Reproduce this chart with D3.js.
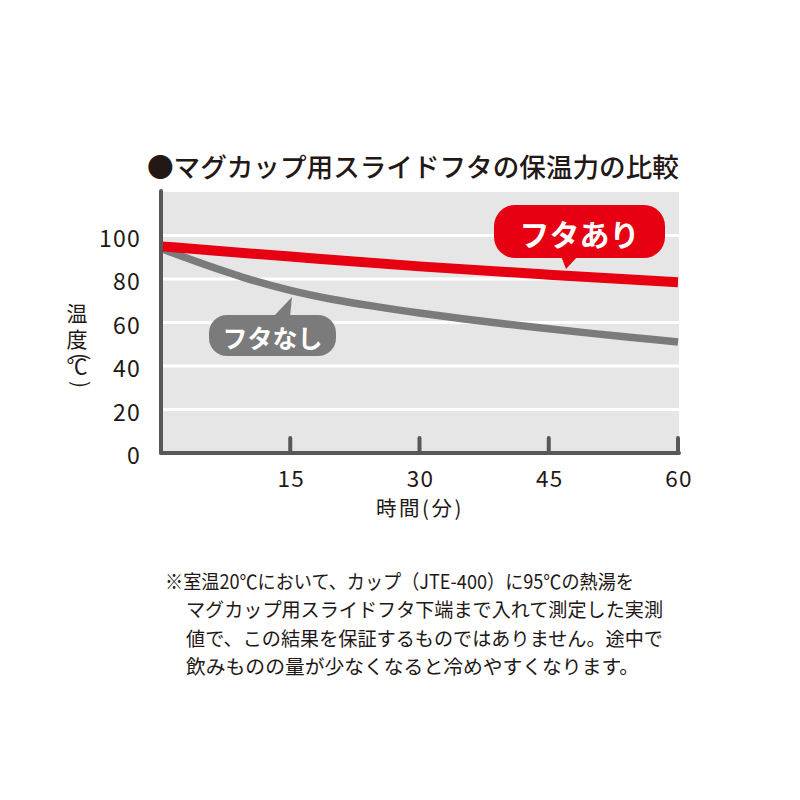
<!DOCTYPE html>
<html><head><meta charset="utf-8">
<script src="https://cdn.jsdelivr.net/npm/d3@7/dist/d3.min.js"></script>
<style>html,body{margin:0;padding:0;background:#fff;}svg{display:block;}</style>
</head><body>
<svg id="chart" width="800" height="800"></svg>
<script>
const title = "●マグカップ用スライドフタの保温力の比較";
const yTicks = [0, 20, 40, 60, 80, 100];
const xTicks = [15, 30, 45, 60];
const withLidTime = [0, 15, 30, 45, 60];
const withLidTemp = [95, 90.3, 85.8, 82, 78.5];
const noLidTime = [0, 5, 10, 15, 20, 25, 30, 35, 40, 45, 50, 55, 60];
const noLidTemp = [94, 86.8, 80.2, 74.8, 70.6, 67.3, 64.4, 61.7, 59.3, 57.1, 55.0, 53.0, 51.0];
const seriesNames = ["フタあり", "フタなし"];
const yLabel = "温度(℃)";
const xLabel = "時間(分)";
const notes = [
  "※室温20℃において、カップ（JTE-400）に95℃の熱湯を",
  "マグカップ用スライドフタ下端まで入れて測定した実測",
  "値で、この結果を保証するものではありません。途中で",
  "飲みものの量が少なくなると冷めやすくなります。"
];

const FONT = "'Noto Sans CJK JP','Noto Sans',sans-serif";
const INK = "#231815";
const RED = "#e60012";
const GREY = "#7b7b7b";
const svg = d3.select("#chart");

const x = d3.scaleLinear().domain([0, 60]).range([161, 678]);
const y = d3.scaleLinear().domain([0, 120]).range([453, 192]);

// title
svg.append("text").attr("x", 147).attr("y", 165)
  .attr("dominant-baseline", "central")
  .attr("font-family", FONT).attr("font-size", 26.6).attr("font-weight", 500)
  .attr("fill", INK).text(title);

// plot background
svg.append("rect").attr("x", x(0)).attr("y", y(120))
  .attr("width", x(60) - x(0) + 1).attr("height", y(0) - y(120))
  .attr("fill", "#e6e6e6");

// gridlines
svg.append("g").selectAll("line").data(yTicks.filter(d => d > 0)).join("line")
  .attr("x1", x(0)).attr("x2", x(60) + 1)
  .attr("y1", d => y(d)).attr("y2", d => y(d))
  .attr("stroke", "#fff").attr("stroke-width", 3);

// lines
const lineGen = d3.line().x(d => x(d[0])).y(d => y(d[1])).curve(d3.curveMonotoneX);
svg.append("path").datum(noLidTime.map((t, i) => [t, noLidTemp[i]]))
  .attr("d", lineGen).attr("fill", "none").attr("stroke", GREY).attr("stroke-width", 7.5);
svg.append("path").datum(withLidTime.map((t, i) => [t, withLidTemp[i]]))
  .attr("d", lineGen).attr("fill", "none").attr("stroke", RED).attr("stroke-width", 10);

// callouts
function callout(cx, cy, w, h, r, tri, fill, label, fs) {
  const g = svg.append("g");
  g.append("rect").attr("x", cx - w / 2).attr("y", cy - h / 2).attr("width", w).attr("height", h)
    .attr("rx", r).attr("fill", fill);
  g.append("path").attr("d", "M" + tri.map(p => p.join(",")).join("L") + "Z").attr("fill", fill);
  g.append("text").attr("x", cx).attr("y", cy + 1).attr("text-anchor", "middle")
    .attr("dominant-baseline", "central")
    .attr("font-family", FONT).attr("font-size", fs).attr("font-weight", 700)
    .attr("fill", "#fff").text(label);
}
callout(579.5, 231.5, 171, 53, 21, [[561, 256], [578, 256], [566, 269]], RED, seriesNames[0], 30);
callout(272.5, 335.5, 127, 41, 18, [[273, 317], [290, 317], [292, 297]], GREY, seriesNames[1], 25);

// axes
const AX = "#595757";
svg.append("line").attr("x1", x(0)).attr("x2", x(0)).attr("y1", 191).attr("y2", y(0))
  .attr("stroke", AX).attr("stroke-width", 4).attr("stroke-linecap", "round");
svg.append("line").attr("x1", x(0)).attr("x2", x(60) + 1).attr("y1", y(0)).attr("y2", y(0))
  .attr("stroke", AX).attr("stroke-width", 4).attr("stroke-linecap", "round");
svg.append("g").selectAll("line").data(xTicks).join("line")
  .attr("x1", d => x(d)).attr("x2", d => x(d)).attr("y1", y(0) - 15).attr("y2", y(0))
  .attr("stroke", AX).attr("stroke-width", 4).attr("stroke-linecap", "round");

// tick labels
svg.append("g").selectAll("text").data(yTicks).join("text")
  .attr("x", 141).attr("y", d => y(d) + 1).attr("text-anchor", "end")
  .attr("dominant-baseline", "central").attr("letter-spacing", 1.2)
  .attr("font-family", FONT).attr("font-size", 23).attr("fill", INK).text(d => d);
svg.append("g").selectAll("text").data(xTicks).join("text")
  .attr("x", d => x(d) + 1).attr("y", 477).attr("text-anchor", "middle")
  .attr("dominant-baseline", "central").attr("letter-spacing", 1.2)
  .attr("font-family", FONT).attr("font-size", 22.5).attr("fill", INK).text(d => d);

// axis titles
svg.append("text").attr("x", 420).attr("y", 507).attr("text-anchor", "middle")
  .attr("dominant-baseline", "central").attr("letter-spacing", 2.5)
  .attr("font-family", FONT).attr("font-size", 20.5).attr("fill", INK).text(xLabel);
// vertical y-axis title: one text, each glyph placed and the parentheses turned
svg.append("text")
  .attr("x", "77 77 77 77 77")
  .attr("y", "312 338 344 365 372")
  .attr("rotate", "0 0 90 0 90")
  .attr("text-anchor", "middle").attr("dominant-baseline", "central")
  .attr("font-family", FONT).attr("font-size", 21).attr("fill", INK).text(yLabel);

// notes
const noteX = [165, 186, 186, 186];
const noteY = [580, 608, 637, 665];
const noteLen = [469, 477, 477, 0];
svg.append("g").selectAll("text").data(notes).join("text")
  .attr("x", (d, i) => noteX[i]).attr("y", (d, i) => noteY[i])
  .attr("dominant-baseline", "central")
  .attr("font-family", FONT).attr("font-size", 19.8).attr("fill", INK)
  .each(function (d, i) { if (noteLen[i]) d3.select(this).attr("textLength", noteLen[i]).attr("lengthAdjust", "spacingAndGlyphs"); })
  .text(d => d);
</script>
</body></html>
